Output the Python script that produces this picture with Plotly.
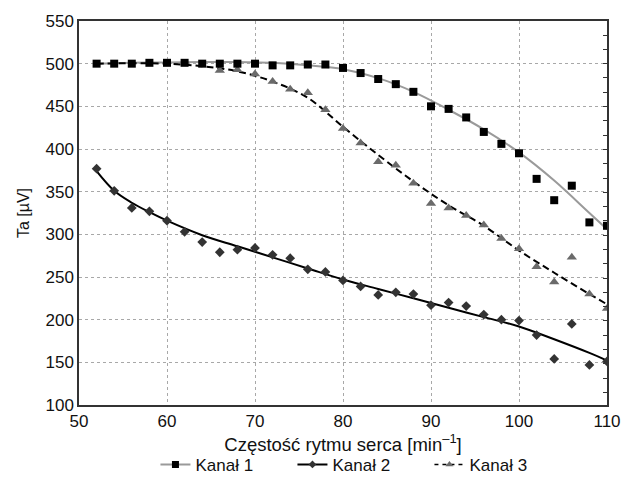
import plotly.graph_objects as go

# Measured points
x_pts = [52, 54, 56, 58, 60, 62, 64, 66, 68, 70, 72, 74, 76, 78, 80,
         82, 84, 86, 88, 90, 92, 94, 96, 98, 100, 102, 104, 106, 108, 110]
k1 = [500, 500, 500, 501, 501, 501, 500, 500, 500, 500, 498, 498, 499, 499, 495,
      489, 482, 476, 467, 450, 447, 437, 420, 406, 395, 365, 340, 357, 314, 310]
k2 = [377, 351, 331, 327, 316, 303, 291, 279, 282, 284, 276, 272, 259, 256, 246,
      239, 229, 232, 230, 217, 220, 216, 206, 200, 199, 182, 154, 195, 147, 151]
x3 = [66, 68, 70, 72, 74, 76, 78, 80, 82, 84, 86, 88, 90, 92, 94, 96, 98, 100,
      102, 104, 106, 108, 110]
k3 = [492, 493, 488, 479, 470, 466, 446, 424, 407, 385, 381, 360, 336, 331, 322,
      311, 295, 283, 262, 244, 273, 230, 213]

# Fitted trend lines
xf1 = [52, 56, 60, 64, 68, 72, 76, 80, 84, 88, 92, 96, 100, 104, 108, 110]
f1 = [500, 501, 501.5, 502, 502, 501, 498, 493.5, 483, 467, 446, 423, 396, 363, 325, 306]
xf2 = [52, 54, 56, 58, 60, 64, 68, 72, 76, 80, 84, 88, 92, 96, 100, 104, 108, 110]
f2 = [374, 351, 337, 326, 316, 299, 286, 273, 260, 247, 236, 225, 214, 203, 192, 177, 161, 152]
xf3 = [52, 56, 60, 64, 68, 72, 76, 80, 84, 88, 92, 96, 100, 104, 108, 110]
f3 = [500, 500.5, 500, 497, 491, 479, 460, 426, 393, 362, 334, 310, 281, 255, 230, 218]

names = ["Kanał 1", "Kanał 2", "Kanał 3"]

fig = go.Figure()

# fit lines
fig.add_trace(go.Scatter(x=xf1, y=f1, mode="lines", line=dict(color="#9a9a9a", width=2, shape="spline"),
                         showlegend=False, hoverinfo="skip"))
fig.add_trace(go.Scatter(x=xf2, y=f2, mode="lines", line=dict(color="#000000", width=2, shape="spline"),
                         showlegend=False, hoverinfo="skip"))
fig.add_trace(go.Scatter(x=xf3, y=f3, mode="lines",
                         line=dict(color="#000000", width=2, dash="7px,4px", shape="spline"),
                         showlegend=False, hoverinfo="skip"))

# points
fig.add_trace(go.Scatter(x=x3, y=k3, mode="markers", marker=dict(symbol="triangle-up", size=9, color="#6a6a6a"),
                         showlegend=False))
fig.add_trace(go.Scatter(x=x_pts, y=k2, mode="markers", marker=dict(symbol="diamond", size=7.5, color="#333333"),
                         showlegend=False))
fig.add_trace(go.Scatter(x=x_pts, y=k1, mode="markers", marker=dict(symbol="square", size=8, color="#000000"),
                         showlegend=False))

# legend entries
fig.add_trace(go.Scatter(x=[None], y=[None], mode="lines+markers", name=names[0],
                         line=dict(color="#9a9a9a", width=2), marker=dict(symbol="square", size=7, color="#000")))
fig.add_trace(go.Scatter(x=[None], y=[None], mode="lines+markers", name=names[1],
                         line=dict(color="#000", width=2), marker=dict(symbol="diamond", size=6, color="#333")))
fig.add_trace(go.Scatter(x=[None], y=[None], mode="lines+markers", name=names[2],
                         line=dict(color="#000", width=1.5, dash="4px,4px"),
                         marker=dict(symbol="triangle-up", size=7, color="#6a6a6a")))

# secondary y axis just for the small right-side ticks
fig.add_trace(go.Scatter(x=[80], y=[0], yaxis="y2", mode="markers", marker=dict(opacity=0),
                         showlegend=False, hoverinfo="skip"))

font_family = "Liberation Sans, Arial, sans-serif"

fig.update_layout(
    width=626, height=501,
    margin=dict(l=79, r=19, t=21, b=96, autoexpand=False),
    paper_bgcolor="white", plot_bgcolor="white",
    font=dict(family=font_family, size=17, color="#111"),
    xaxis=dict(range=[50, 110], dtick=10, tick0=50, showgrid=True, gridcolor="#a8a8a8", griddash="dot",
               gridwidth=1, showline=True, linecolor="#333", linewidth=1.5, mirror=True,
               ticks="", zeroline=False, tickfont=dict(size=17),
               title=dict(text="Częstość rytmu serca [min<sup>–1</sup>]", standoff=6, font=dict(size=18.5))),
    yaxis=dict(range=[100, 550], dtick=50, showgrid=True, gridcolor="#a8a8a8", griddash="dot",
               gridwidth=1, showline=True, linecolor="#333", linewidth=1.5, mirror=True,
               ticks="", zeroline=False, tickfont=dict(size=17),
               title=dict(text="Ta [µV]", standoff=12, font=dict(size=16))),
    yaxis2=dict(overlaying="y", side="right", anchor="x", range=[(100 - 500) / 16.75, (550 - 500) / 16.75],
                dtick=1, tick0=0, ticks="inside", ticklen=4, tickwidth=1, tickcolor="#333",
                showticklabels=False, showgrid=False, zeroline=False, showline=True,
                linecolor="#333", linewidth=1.5),
    legend=dict(orientation="h", x=0.534, xanchor="center", y=-0.156, yanchor="middle",
                font=dict(size=17), entrywidth=92, entrywidthmode="pixels", traceorder="normal"),
)

fig.write_html("out.html")
